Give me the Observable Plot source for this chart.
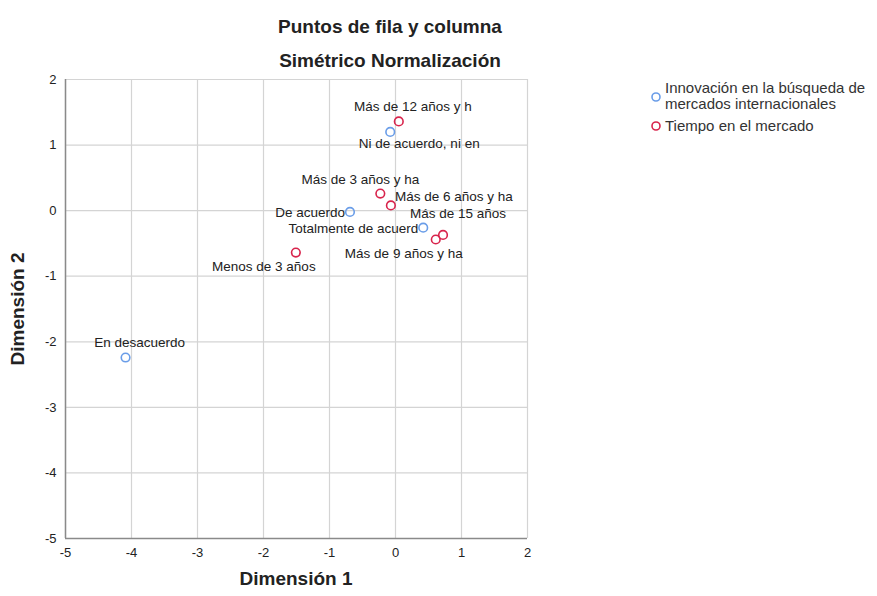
<!DOCTYPE html>
<html>
<head>
<meta charset="utf-8">
<script src="https://cdn.jsdelivr.net/npm/d3@7"></script>
<script src="https://cdn.jsdelivr.net/npm/@observablehq/plot@0.6"></script>
<style>
  html, body { margin: 0; padding: 0; background: #fff; }
  svg { font-family: "Liberation Sans", Arial, sans-serif; }
</style>
</head>
<body>
<div id="chart"></div>
<script>
// --- Data ---
const title = "Puntos de fila y columna";
const subtitle = "Simétrico Normalización";
const xLabel = "Dimensión 1";
const yLabel = "Dimensión 2";
const seriesNames = ["Innovación en la búsqueda de\nmercados internacionales", "Tiempo en el mercado"];

const rowNames = ["Ni de acuerdo, ni en", "De acuerdo", "Totalmente de acuerd", "En desacuerdo"];
const rowX = [-0.08, -0.69, 0.42, -4.09];
const rowY = [1.20, -0.02, -0.26, -2.24];

const colNames = ["Más de 12 años y h", "Más de 3 años y ha", "Más de 6 años y ha", "Más de 15 años", "Más de 9 años y ha", "Menos de 3 años"];
const colX = [0.05, -0.23, -0.07, 0.72, 0.61, -1.51];
const colY = [1.36, 0.26, 0.08, -0.37, -0.44, -0.64];

const xTicks = [-5, -4, -3, -2, -1, 0, 1, 2];
const yTicks = [-5, -4, -3, -2, -1, 0, 1, 2];

// --- Styling / label placement (not data) ---
const colors = ["#6a9de8", "#d8244c"];
const placement = {
  "Ni de acuerdo, ni en": ["middle", 29, 12],
  "De acuerdo": ["end", -5, 1],
  "Totalmente de acuerd": ["end", -5, 1],
  "En desacuerdo": ["middle", 14, -15],
  "Más de 12 años y h": ["middle", 14, -15],
  "Más de 3 años y ha": ["middle", -20, -14],
  "Más de 6 años y ha": ["start", 4, -9],
  "Más de 15 años": ["middle", 15, -21],
  "Más de 9 años y ha": ["middle", -32, 14],
  "Menos de 3 años": ["middle", -32, 14]
};

const points = [
  ...rowNames.map((n, i) => ({name: n, x: rowX[i], y: rowY[i], s: 0})),
  ...colNames.map((n, i) => ({name: n, x: colX[i], y: colY[i], s: 1}))
];

const W = 877, H = 596;
const mL = 65, mR = W - 527, mT = 79, mB = H - 538;
const fmt = d => String(d);

const labelMarks = points.map(d => {
  const [anchor, dx, dy] = placement[d.name];
  return Plot.text([d], {x: "x", y: "y", text: "name", textAnchor: anchor, dx, dy,
    fontSize: 13.5, fill: "#222"});
});

const chart = Plot.plot({
  width: W, height: H,
  marginLeft: mL, marginRight: mR, marginTop: mT, marginBottom: mB,
  style: {fontFamily: "Liberation Sans, Arial, sans-serif", fontSize: "13px", color: "#222", background: "#fff"},
  x: {domain: [-5, 2], ticks: xTicks, tickSize: 0, tickPadding: 8, label: null, tickFormat: fmt},
  y: {domain: [-5, 2], ticks: yTicks, tickSize: 0, tickPadding: 8, label: null, tickFormat: fmt},
  marks: [
    Plot.gridX(xTicks, {stroke: "#d4d4d4", strokeOpacity: 1, strokeWidth: 1.2}),
    Plot.gridY(yTicks, {stroke: "#d4d4d4", strokeOpacity: 1, strokeWidth: 1.2}),
    Plot.ruleX([-5], {stroke: "#8a8a8a", strokeWidth: 1.5}),
    Plot.ruleY([-5], {stroke: "#8a8a8a", strokeWidth: 1.5}),
    Plot.axisX(xTicks, {tickSize: 0, tickPadding: 9, fontSize: 13, label: null, tickFormat: fmt}),
    Plot.axisY(yTicks, {tickSize: 0, tickPadding: 9, fontSize: 13, label: null, tickFormat: fmt}),
    ...labelMarks,
    Plot.dot(points, {x: "x", y: "y", r: 4.3, fill: "none", strokeWidth: 1.6,
      stroke: d => colors[d.s]})
  ]
});

const svg = d3.select(chart);
const t = (x, y, txt, opts = {}) => {
  const el = svg.append("text").attr("x", x).attr("y", y).text(txt)
    .attr("fill", opts.fill || "#222")
    .attr("font-size", opts.size || 13)
    .attr("font-weight", opts.weight || "normal")
    .attr("text-anchor", opts.anchor || "start")
    .attr("dominant-baseline", "middle");
  if (opts.rotate) el.attr("transform", `rotate(-90 ${x} ${y})`);
  return el;
};
t(390, 28, title, {size: 19, weight: "bold", anchor: "middle"});
t(390, 62, subtitle, {size: 19, weight: "bold", anchor: "middle"});
t(296, 580, xLabel, {size: 19, weight: "bold", anchor: "middle"});
t(19, 309, yLabel, {size: 19, weight: "bold", anchor: "middle", rotate: true});

// legend
const lines0 = seriesNames[0].split("\n");
svg.append("circle").attr("cx", 656).attr("cy", 97).attr("r", 4).attr("fill", "none")
  .attr("stroke", colors[0]).attr("stroke-width", 1.6);
t(665, 89, lines0[0], {size: 15, fill: "#333"});
t(665, 105, lines0[1], {size: 15, fill: "#333"});
svg.append("circle").attr("cx", 656).attr("cy", 126).attr("r", 4).attr("fill", "none")
  .attr("stroke", colors[1]).attr("stroke-width", 1.6);
t(665, 127, seriesNames[1], {size: 15, fill: "#333"});

document.getElementById("chart").appendChild(chart);
</script>
</body>
</html>
